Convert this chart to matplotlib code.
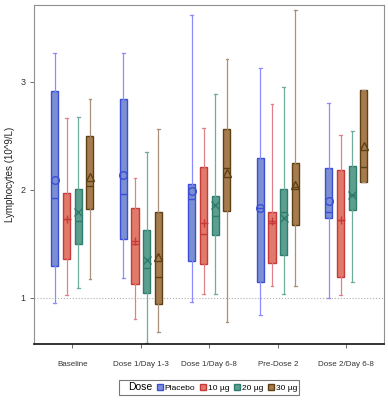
import matplotlib
matplotlib.use("Agg")
import matplotlib.pyplot as plt
from matplotlib.lines import Line2D
import numpy as np

plt.rcParams['font.family'] = ['Liberation Sans Narrow', 'Liberation Sans', 'DejaVu Sans']

categories = ["Baseline", "Dose 1/Day 1-3", "Dose 1/Day 6-8", "Pre-Dose 2", "Dose 2/Day 6-8"]
groups = ["Placebo", "10 µg", "20 µg", "30 µg"]

# rows: Placebo, 10 µg, 20 µg, 30 µg ; columns: categories
whislo = [[0.95, 1.18, 0.96, 0.84, 1.00],
          [1.02, 0.80, 1.03, 1.11, 1.02],
          [1.09, 0.58, 1.03, 1.03, 1.14],
          [1.17, 0.68, 0.77, 1.11, 2.07]]
q1 = [[1.29, 1.54, 1.34, 1.14, 1.74],
      [1.36, 1.13, 1.31, 1.32, 1.19],
      [1.50, 1.04, 1.58, 1.39, 1.81],
      [1.82, 0.94, 1.80, 1.67, 2.07]]
med = [[1.92, 1.96, 1.91, 1.83, 1.79],
       [1.73, 1.50, 1.59, 1.69, 1.72],
       [1.71, 1.27, 1.76, 1.79, 1.95],
       [2.03, 1.19, 2.20, 2.02, 2.21]]
mean = [[2.09, 2.14, 1.99, 1.83, 1.89],
        [1.73, 1.52, 1.69, 1.71, 1.72],
        [1.79, 1.35, 1.86, 1.74, 1.95],
        [2.12, 1.38, 2.15, 2.04, 2.40]]
q3 = [[2.91, 2.84, 2.05, 2.29, 2.20],
      [1.97, 1.83, 2.21, 1.79, 2.18],
      [2.01, 1.63, 1.94, 2.01, 2.22],
      [2.50, 1.79, 2.56, 2.25, 2.92]]
whishi = [[3.27, 3.27, 3.62, 3.13, 2.80],
          [2.66, 2.11, 2.57, 2.79, 2.51],
          [2.67, 2.35, 2.89, 2.95, 2.54],
          [2.84, 2.56, 3.21, 3.66, 2.92]]

fills = ['#7b8fd2', '#e07a6a', '#5c9f8f', '#a67c4f']
edges = ['#3a4fd6', '#c83a3a', '#2e7c6c', '#5f3f14']
whisk = ['#8c8cff', '#e0808a', '#6fae9e', '#a8907a']
mean_markers = ['o', '+', 'x', '^']

fig = plt.figure(figsize=(3.88, 4.0), dpi=100)
ax = fig.add_axes([34/388, 56/400, 350/388, 339/400])

offsets = [-0.256, -0.085, 0.085, 0.256]
x = np.arange(len(categories))
for g in range(len(groups)):
    stats = []
    for c in range(len(categories)):
        stats.append(dict(med=med[g][c], q1=q1[g][c], q3=q3[g][c],
                          whislo=whislo[g][c], whishi=whishi[g][c],
                          mean=mean[g][c], fliers=[]))
    ax.bxp(stats, positions=x + offsets[g], widths=0.105, patch_artist=True,
           showmeans=True, showfliers=False, capwidths=0.04,
           boxprops=dict(facecolor=fills[g], edgecolor=edges[g], linewidth=1.0),
           medianprops=dict(color=edges[g], linewidth=1.0),
           whiskerprops=dict(color=whisk[g], linewidth=0.9),
           capprops=dict(color=whisk[g], linewidth=0.9),
           meanprops=dict(marker=mean_markers[g], markerfacecolor='none',
                          markeredgecolor=edges[g], markersize=5.5, markeredgewidth=1.0))

ax.axhline(1, color='#b0b0b0', linestyle=':', linewidth=0.8, zorder=0)
ax.set_xlim(-0.56, 4.55)
ax.set_ylim(0.57, 3.71)
ax.set_xticks(x)
ax.set_xticklabels(categories, fontsize=5.8, color='#333333')
ax.set_yticks([1, 2, 3])
ax.set_yticklabels(['1', '2', '3'], fontsize=6.5, color='#333333')
ax.tick_params(axis='both', length=3, width=0.6, colors='#555555', labelcolor='#333333')
ax.tick_params(axis='x', pad=9)
ax.tick_params(axis='y', pad=3)
ax.set_ylabel('Lymphocytes (10^9/L)', fontsize=7, color='#222222', labelpad=4)
for s in ['top', 'right', 'left']:
    ax.spines[s].set_color('#909090')
    ax.spines[s].set_linewidth(0.8)
ax.spines['bottom'].set_color('#111111')
ax.spines['bottom'].set_linewidth(1.2)

handles = [Line2D([], [], linestyle='none')]
labels = ['Dose']
for g in range(len(groups)):
    handles.append(Line2D([], [], linestyle='none', marker='s', markersize=4.5,
                          markerfacecolor=fills[g], markeredgecolor=edges[g]))
    labels.append(groups[g])
leg = fig.legend(handles, labels, loc='center', bbox_to_anchor=(209/388, 1 - 387/400),
                 ncol=5, fontsize=6, frameon=True, handlelength=0.5, handletextpad=0.3,
                 columnspacing=0.7, borderpad=0.3, fancybox=False)
leg.get_frame().set_edgecolor('#555555')
leg.get_frame().set_linewidth(0.8)
leg.get_texts()[0].set_fontsize(7.5)

fig.savefig('out.png', dpi=100)
